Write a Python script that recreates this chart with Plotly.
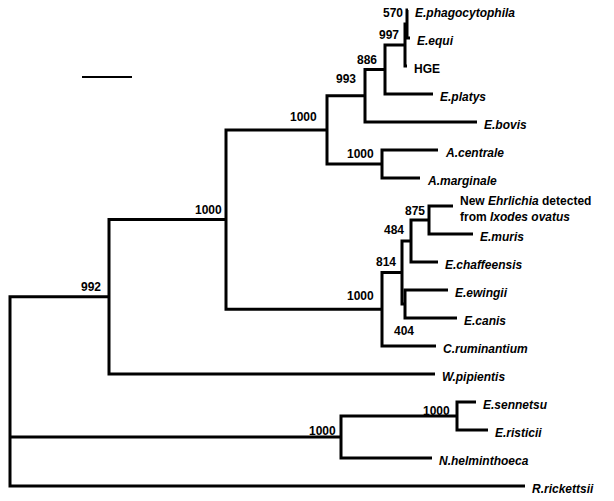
import plotly.graph_objects as go

# tree, listed in drawing order (children appear in the order they are drawn, top to bottom)
node_ids = [
    "root", "A", "B", "C", "D", "E", "F", "P",
    "E.phagocytophila", "E.equi", "HGE", "E.platys", "E.bovis",
    "G", "A.centrale", "A.marginale",
    "H", "I", "J", "L", "New Ehrlichia", "E.muris", "E.chaffeensis",
    "K", "E.ewingii", "E.canis", "C.ruminantium",
    "W.pipientis",
    "M", "N", "E.sennetsu", "E.risticii", "N.helminthoeca",
    "R.rickettsii",
]
parent_ids = [
    None, "root", "A", "B", "C", "D", "E", "F",
    "P", "P", "F", "E", "D",
    "C", "G", "G",
    "B", "H", "I", "J", "L", "L", "J",
    "I", "K", "K", "H",
    "A",
    "root", "M", "N", "N", "M",
    "root",
]
branch_lengths = [
    0.0, 0.099, 0.117, 0.101, 0.038, 0.020, 0.020, 0.002,
    0.001, 0.003, 0.002, 0.048, 0.112,
    0.055, 0.056, 0.038,
    0.156, 0.020, 0.009, 0.018, 0.024, 0.044, 0.027,
    0.003, 0.043, 0.052, 0.054,
    0.326,
    0.331, 0.116, 0.019, 0.031, 0.091,
    0.515,
]
bootstrap = {
    "A": 992, "B": 1000, "C": 1000, "D": 993, "E": 886, "F": 997, "P": 570,
    "G": 1000, "H": 1000, "I": 814, "J": 484, "L": 875, "K": 404,
    "M": 1000, "N": 1000,
}
leaf_labels = {
    "E.phagocytophila": "<b><i>E.phagocytophila</i></b>",
    "E.equi": "<b><i>E.equi</i></b>",
    "HGE": "<b>HGE</b>",
    "E.platys": "<b><i>E.platys</i></b>",
    "E.bovis": "<b><i>E.bovis</i></b>",
    "A.centrale": "<b><i>A.centrale</i></b>",
    "A.marginale": "<b><i>A.marginale</i></b>",
    "New Ehrlichia": "<b>New <i>Ehrlichia</i> detected<br>from <i>Ixodes ovatus</i></b>",
    "E.muris": "<b><i>E.muris</i></b>",
    "E.chaffeensis": "<b><i>E.chaffeensis</i></b>",
    "E.ewingii": "<b><i>E.ewingii</i></b>",
    "E.canis": "<b><i>E.canis</i></b>",
    "C.ruminantium": "<b><i>C.ruminantium</i></b>",
    "W.pipientis": "<b><i>W.pipientis</i></b>",
    "E.sennetsu": "<b><i>E.sennetsu</i></b>",
    "E.risticii": "<b><i>E.risticii</i></b>",
    "N.helminthoeca": "<b><i>N.helminthoeca</i></b>",
    "R.rickettsii": "<b><i>R.rickettsii</i></b>",
}
scale_bar_length = 0.05

# label offsets in pixels (dx, dy) relative to the node
support_offsets = {
    "A": (-6, 10), "B": (-2, 10), "C": (-8, 13), "D": (-7, 17), "E": (-6, 10),
    "F": (-4, 10), "P": (-2, 11), "G": (-6, 10), "H": (-6, 13), "I": (-4, 11),
    "J": (-5, 11), "L": (-2, 9), "M": (-3, 6), "N": (-5, 5),
}

children = {n: [] for n in node_ids}
for n, p in zip(node_ids, parent_ids):
    if p is not None:
        children[p].append(n)
blen = dict(zip(node_ids, branch_lengths))

xpos, ypos = {}, {}
leaf_count = [0]


def layout(n, x0):
    xpos[n] = x0 + blen[n]
    if not children[n]:
        ypos[n] = leaf_count[0]
        leaf_count[0] += 1
    else:
        for c in children[n]:
            layout(c, xpos[n])
        ypos[n] = (ypos[children[n][0]] + ypos[children[n][-1]]) / 2


layout("root", 0.0)

xs, ys = [], []
for n in node_ids:
    ch = children[n]
    if not ch:
        continue
    first, last = ch[0], ch[-1]
    xs += [xpos[first], xpos[n], xpos[n], xpos[last], None]
    ys += [ypos[first], ypos[first], ypos[last], ypos[last], None]
    for c in ch[1:-1]:
        xs += [xpos[n], xpos[c], None]
        ys += [ypos[c], ypos[c], None]

fig = go.Figure()
fig.add_trace(go.Scatter(x=xs, y=ys, mode="lines",
                         line=dict(color="black", width=3),
                         hoverinfo="skip", showlegend=False))

font = dict(family="Liberation Sans, Arial, sans-serif", size=12, color="black")

for n, text in leaf_labels.items():
    fig.add_annotation(x=xpos[n], y=ypos[n], text=text, showarrow=False,
                       xanchor="left", yanchor="middle", align="left",
                       xshift=5, yshift=-3, font=font)

for n, val in bootstrap.items():
    if n == "K":
        fig.add_annotation(x=xpos[n], y=ypos[n], text=f"<b>{val}</b>", showarrow=False,
                           xanchor="center", yanchor="middle", xshift=-1, yshift=-27,
                           font=font)
        continue
    dx, dy = support_offsets[n]
    fig.add_annotation(x=xpos[n], y=ypos[n], text=f"<b>{val}</b>", showarrow=False,
                       xanchor="right", yanchor="middle", xshift=dx, yshift=dy,
                       font=font)

# scale bar
fig.add_shape(type="line", xref="x", yref="paper",
              x0=0.072, x1=0.072 + scale_bar_length, y0=0.860, y1=0.860,
              line=dict(color="black", width=2))

# the page body adds an 8px margin, so the figure is 8px smaller and the ranges are shifted
fig.update_xaxes(visible=False, range=[-0.002, 0.604])
fig.update_yaxes(visible=False, range=[491 / 28, -2 / 28])
fig.update_layout(width=606, height=493, margin=dict(l=0, r=0, t=0, b=0),
                  plot_bgcolor="white", paper_bgcolor="white")

fig.write_html("out.html")
